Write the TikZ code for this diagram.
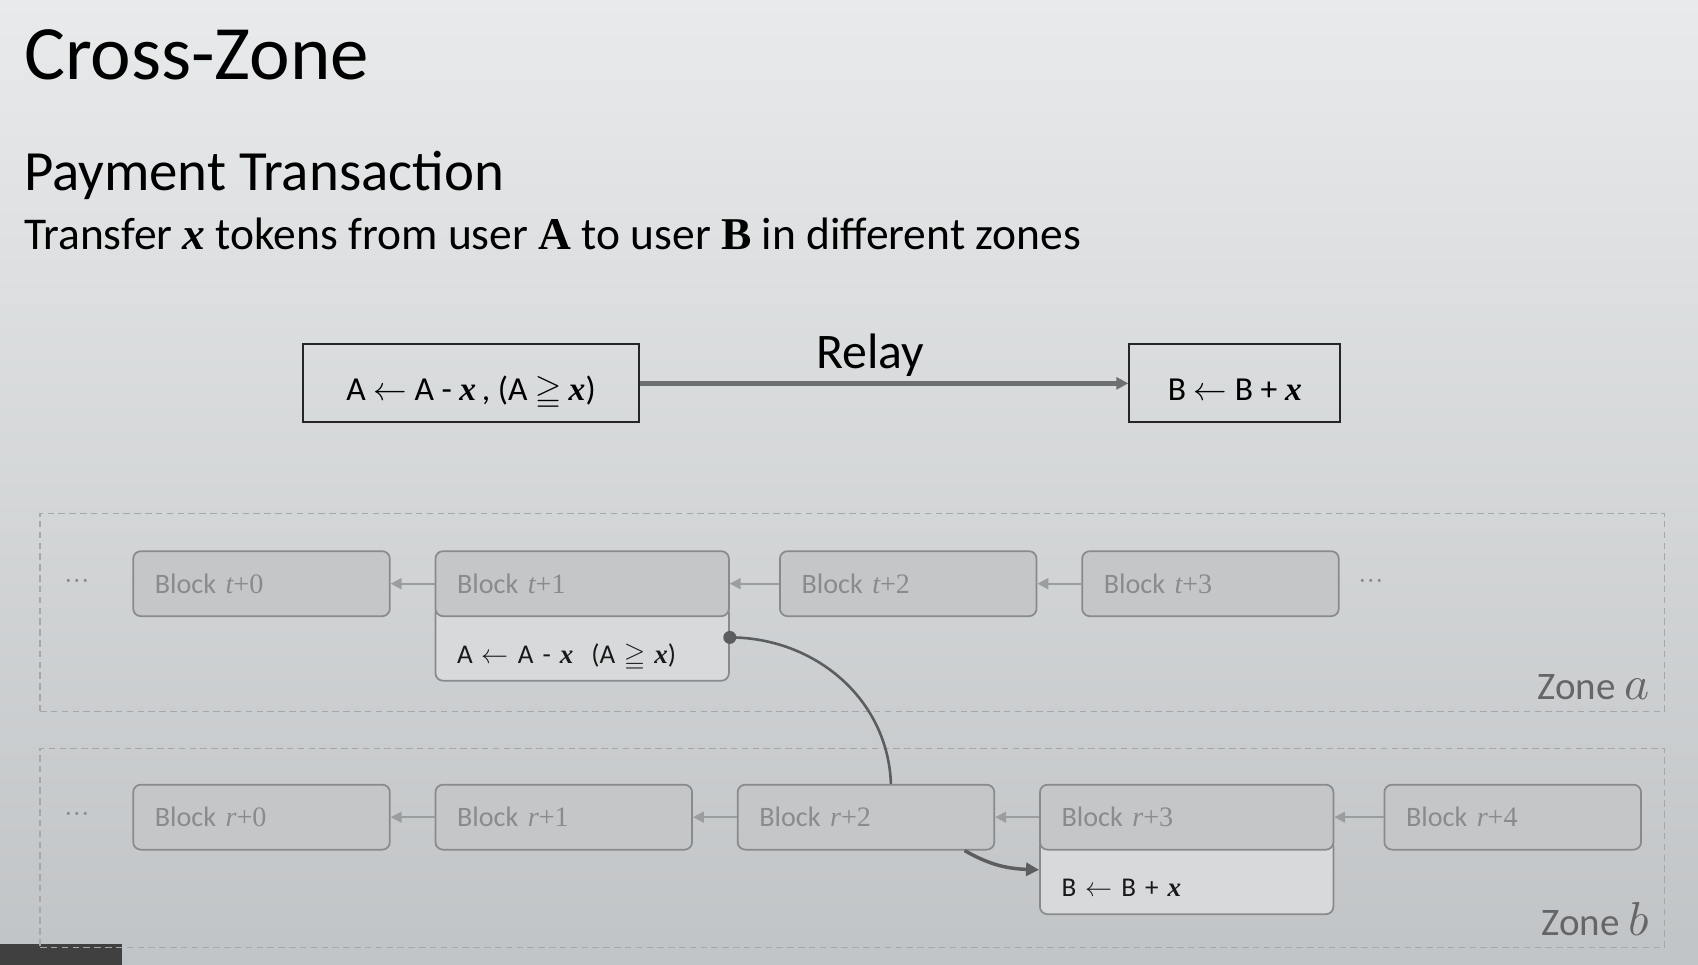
\documentclass[tikz,border=0pt]{standalone}
\usepackage{fontspec}
\usepackage{unicode-math}
\setmainfont{Carlito}
\setmathfont{Latin Modern Math}
\newfontfamily\tmsfont{Liberation Serif}
\usetikzlibrary{positioning}
\usetikzlibrary{arrows.meta}

\pgfdeclarelayer{backdrop}
\pgfdeclarelayer{behind}
\pgfsetlayers{backdrop,behind,main}

\definecolor{slidetop}{HTML}{E8EAEB}
\definecolor{slidebottom}{HTML}{C1C4C6}
\definecolor{blockfill}{HTML}{C5C6C7}
\definecolor{blockline}{HTML}{898A8B}
\definecolor{blocktext}{HTML}{8A8B8C}
\definecolor{txfill}{HTML}{D8D9DA}
\definecolor{zoneline}{HTML}{A5A7A8}
\definecolor{linkgrey}{HTML}{5C5D5E}
\definecolor{chaingrey}{HTML}{9C9D9E}
\definecolor{relaygrey}{HTML}{6E6F70}

\newcommand{\varx}{{\tmsfont\bfseries\itshape x}}
\newcommand{\blocklabel}[2]{Block {\tmsfont\itshape #1}{\tmsfont +#2}}

\begin{document}
\begin{tikzpicture}[x=1pt, y=-1pt]
      \tikzstyle{block} = [draw=blockline, fill=blockfill, line width=1.6pt, rounded corners=7pt, minimum height=60pt, text width=197pt, inner xsep=20pt, align=left, text=blocktext, font=\fontsize{26}{30}\selectfont]
      \tikzstyle{wideblock} = [block, text width=231pt]
      \tikzstyle{txpart} = [draw=blockline, fill=txfill, line width=1.6pt, rounded corners=7pt, minimum height=70pt, text width=231pt, inner xsep=20pt, align=left, text height=45pt, text depth=7pt, text=black!90, font=\fontsize{25}{30}\selectfont]
      \tikzstyle{txbox} = [draw=black!85, line width=1.8pt, minimum height=72pt, text height=40pt, text depth=8pt, font=\fontsize{31}{36}\selectfont]
      \tikzstyle{zone} = [draw=zoneline, dash pattern=on 6pt off 4pt, line width=1.2pt, minimum width=1500pt]
      \tikzstyle{zonelabel} = [inner sep=0pt, text=black!60, font=\fontsize{36}{40}\selectfont]
      \tikzstyle{dots} = [inner sep=0pt, text=blocktext, font=\fontsize{28}{28}\selectfont]
      \tikzstyle{chainlink} = [chaingrey, line width=1.8pt, -{Triangle[length=10pt, width=10pt]}]
      \tikzstyle{relaycurve} = [linkgrey, line width=2.4pt]

      % slide background
      \useasboundingbox (0,0) rectangle (1568,891);
      \begin{pgfonlayer}{backdrop}
        \shade[top color=slidetop, bottom color=slidebottom] (0,0) rectangle (1568,891);
        \fill[black!75] (0,872) rectangle (113,891);
      \end{pgfonlayer}

      \node (title) [anchor=base west, inner sep=0pt, font=\fontsize{71}{80}\selectfont] at (22,73) {Cross-Zone};
      \node (subtitle) [anchor=base west, inner sep=0pt, font=\fontsize{52.5}{58}\selectfont] at (22,176) {Payment Transaction};
      \node (description) [anchor=base west, inner sep=0pt, font=\fontsize{42}{48}\selectfont] at (22,230) {Transfer \varx\ tokens from user {\tmsfont\bfseries A} to user {\tmsfont\bfseries B} in different zones};

      % relay between the two zones
      \node (debit) [txbox, minimum width=310pt] at (435,354) {A $\leftarrow$ A - \varx\,, (A $\geqq$ \varx)};
      \node (credit) [txbox, minimum width=195pt, right=451pt of debit] {B $\leftarrow$ B + \varx};
      \draw[relaygrey, line width=4pt, -{Triangle[length=11pt, width=11pt]}] (debit) -- (credit)
        node[midway, anchor=base, yshift=14pt, xshift=-13pt, font=\fontsize{46}{50}\selectfont, text=black] {Relay};

      % zone a
      \node (zoneA) [zone, minimum height=183pt] at (787,565.5) {};
      \node (blockTzero) [block] at (241.5,539) {\blocklabel{t}{0}};
      \node (blockTone) [wideblock, right=40.5pt of blockTzero] {\blocklabel{t}{1}};
      \node (blockTtwo) [block, right=45.5pt of blockTone] {\blocklabel{t}{2}};
      \node (blockTthree) [block, right=40.5pt of blockTtwo] {\blocklabel{t}{3}};
      \begin{pgfonlayer}{behind}
        \node (txA) [txpart, below=-12pt of blockTone] {A $\leftarrow$ A - \varx\ \ (A $\geqq$ \varx)};
      \end{pgfonlayer}
      \node [dots, left=40pt of blockTzero] {$\cdots$};
      \node [dots, right=18pt of blockTthree] {$\cdots$};
      \node [zonelabel, anchor=base east] at ([xshift=-14pt, yshift=12pt]zoneA.south east) {Zone {\fontsize{44}{44}\selectfont$a$}};

      \draw[chainlink] (blockTone) -- (blockTzero);
      \draw[chainlink] (blockTtwo) -- (blockTone);
      \draw[chainlink] (blockTthree) -- (blockTtwo);

      % zone b
      \node (zoneB) [zone, minimum height=184pt, below=33pt of zoneA] {};
      \node (blockRzero) [block, below=154pt of blockTzero] {\blocklabel{r}{0}};
      \node (blockRone) [block, right=40.5pt of blockRzero] {\blocklabel{r}{1}};
      \node (blockRtwo) [block, right=40.5pt of blockRone] {\blocklabel{r}{2}};
      \node (blockRthree) [wideblock, right=40.5pt of blockRtwo] {\blocklabel{r}{3}};
      \node (blockRfour) [block, right=45.5pt of blockRthree] {\blocklabel{r}{4}};
      \begin{pgfonlayer}{behind}
        \node (txB) [txpart, below=-12pt of blockRthree] {B $\leftarrow$ B + \varx};
      \end{pgfonlayer}
      \node [dots, left=40pt of blockRzero] {$\cdots$};
      \node [zonelabel, anchor=base east] at ([xshift=-14pt, yshift=12pt]zoneB.south east) {Zone {\fontsize{44}{44}\selectfont$b$}};

      \draw[chainlink] (blockRone) -- (blockRzero);
      \draw[chainlink] (blockRtwo) -- (blockRone);
      \draw[chainlink] (blockRthree) -- (blockRtwo);
      \draw[chainlink] (blockRfour) -- (blockRthree);

      % cross-zone message
      \fill[linkgrey] ([yshift=5pt]txA.east) circle (6pt);
      \draw[relaycurve] ([yshift=5pt]txA.east) to[out=0, in=92] ([xshift=23pt]blockRtwo.north);
      \draw[relaycurve, line width=3.2pt, -{Triangle[length=12pt, width=12pt]}] ([xshift=91pt]blockRtwo.south) to[out=-30, in=178] ([yshift=6pt]txB.west);
\end{tikzpicture}
\end{document}
